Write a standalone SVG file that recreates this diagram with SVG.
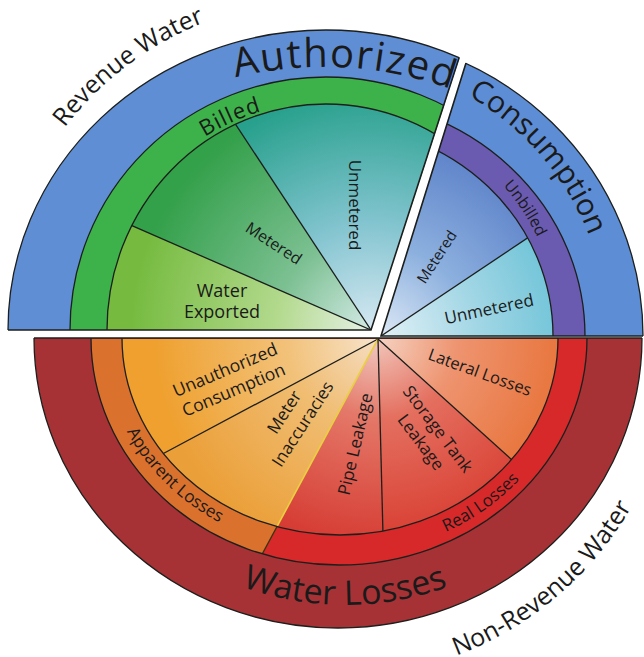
<svg xmlns="http://www.w3.org/2000/svg" width="644" height="657" viewBox="0 0 644 657">
<defs>
<style>
.ln{stroke:#1c1f1c;stroke-width:1.3}
.edge{fill:none;stroke:#1c1f1c;stroke-width:1.6}
.t{font-family:'Open Sans','Noto Sans','DejaVu Sans',sans-serif;fill:#1a1a1a}
</style>
<clipPath id="cTL"><polygon points="371,330 -5,330 -5,-5 480,-5"/></clipPath>
<clipPath id="cTR"><polygon points="381,336 487,-5 650,-5 650,336"/></clipPath>
<clipPath id="cB"><rect x="-5" y="338" width="660" height="330"/></clipPath>
<clipPath id="cTLin"><ellipse cx="326" cy="330" rx="219" ry="226"/></clipPath>
<clipPath id="cTRin"><ellipse cx="332" cy="336" rx="221" ry="211"/></clipPath>
<clipPath id="cBband"><ellipse cx="339" cy="338" rx="248" ry="227"/></clipPath>
<clipPath id="cBin"><ellipse cx="340" cy="338" rx="218" ry="197"/></clipPath>
<radialGradient id="gWE" gradientUnits="userSpaceOnUse" cx="371" cy="330" r="240"><stop offset="0" stop-color="#e6f1e6"/><stop offset="0.4" stop-color="#b2d98c"/><stop offset="1" stop-color="#76bb40"/></radialGradient>
<radialGradient id="gMG" gradientUnits="userSpaceOnUse" cx="371" cy="330" r="240"><stop offset="0" stop-color="#d4eae6"/><stop offset="0.4" stop-color="#7cc092"/><stop offset="1" stop-color="#33a04a"/></radialGradient>
<radialGradient id="gUT" gradientUnits="userSpaceOnUse" cx="371" cy="330" r="240"><stop offset="0" stop-color="#d6e8f2"/><stop offset="0.45" stop-color="#82c4cf"/><stop offset="1" stop-color="#27a08c"/></radialGradient>
<radialGradient id="gMB" gradientUnits="userSpaceOnUse" cx="381" cy="336" r="225"><stop offset="0" stop-color="#dde9f6"/><stop offset="0.4" stop-color="#8cb0de"/><stop offset="1" stop-color="#5277c4"/></radialGradient>
<radialGradient id="gUB" gradientUnits="userSpaceOnUse" cx="381" cy="336" r="225"><stop offset="0" stop-color="#e2f1f6"/><stop offset="0.4" stop-color="#a6d8e6"/><stop offset="1" stop-color="#58bbd2"/></radialGradient>
<radialGradient id="gUC" gradientUnits="userSpaceOnUse" cx="378" cy="339" r="225"><stop offset="0" stop-color="#f7e3cc"/><stop offset="0.4" stop-color="#f2c27a"/><stop offset="1" stop-color="#efa02e"/></radialGradient>
<radialGradient id="gMI" gradientUnits="userSpaceOnUse" cx="378" cy="339" r="225"><stop offset="0" stop-color="#f5ddc2"/><stop offset="0.4" stop-color="#f0bd72"/><stop offset="1" stop-color="#eb9f38"/></radialGradient>
<radialGradient id="gPL" gradientUnits="userSpaceOnUse" cx="378" cy="339" r="225"><stop offset="0" stop-color="#f1cac2"/><stop offset="0.35" stop-color="#e47868"/><stop offset="1" stop-color="#d4342c"/></radialGradient>
<radialGradient id="gST" gradientUnits="userSpaceOnUse" cx="378" cy="339" r="225"><stop offset="0" stop-color="#f1c6ba"/><stop offset="0.35" stop-color="#e47060"/><stop offset="1" stop-color="#d6362a"/></radialGradient>
<radialGradient id="gLL" gradientUnits="userSpaceOnUse" cx="378" cy="339" r="225"><stop offset="0" stop-color="#f5d2c2"/><stop offset="0.35" stop-color="#ee9470"/><stop offset="1" stop-color="#e66a2a"/></radialGradient>
<path id="pRev" d="M-3.5 311.7 A330 330 0 0 1 400.2 7.5"/>
<path id="pAuth" d="M52.8 184.3 A372 372 0 0 1 621.9 216.1"/>
<path id="pCons" d="M279.8 65 A276 276 0 0 1 592.8 426.3"/>
<path id="pBilled" d="M106.6 267.9 A228 228 0 0 1 425.2 124.7"/>
<path id="pUnbilled" d="M357.8 109.5 A228 228 0 0 1 550.6 400.8"/>
<path id="pWL" d="M132.9 517.1 A300 300 0 0 0 557.1 517.1"/>
<path id="pNRW" d="M281.6 672.3 A338 338 0 0 0 676 336.6"/>
<path id="pApp" d="M105.7 305.6 A236 214 0 0 0 344.4 551.9"/>
<path id="pReal" d="M295.2 551.3 A238 217 0 0 0 577 340.3"/>
</defs>
<rect width="644" height="657" fill="#ffffff"/>

<!-- Top-left piece: Authorized consumption / Billed -->
<g id="piece-billed">
<g clip-path="url(#cTL)">
<ellipse id="authorized-ring-left" cx="326" cy="330" rx="318" ry="300" fill="#5f8ed5" class="ln"/>
<ellipse id="billed-ring" cx="326" cy="330" rx="256" ry="253" fill="#3db24b" class="ln"/>
<g clip-path="url(#cTLin)">
<polygon id="billed-water-exported" points="371,330 -300,330 -101,124" fill="url(#gWE)"/>
<polygon id="billed-metered" points="371,330 -101,124 105,-74" fill="url(#gMG)"/>
<polygon id="billed-unmetered" points="371,330 105,-74 503,-78" fill="url(#gUT)"/>
<line class="ln" x1="371" y1="330" x2="-101" y2="124"/>
<line class="ln" x1="371" y1="330" x2="105" y2="-74"/>
</g>
<ellipse cx="326" cy="330" rx="219" ry="226" fill="none" class="ln"/>
</g>
<polyline class="edge" points="8,330 371,330 459,58"/>
</g>

<!-- Top-right piece: Unbilled -->
<g id="piece-unbilled">
<g clip-path="url(#cTR)">
<ellipse id="authorized-ring-right" cx="332" cy="336" rx="311" ry="302" fill="#5d8dd5" class="ln"/>
<ellipse id="unbilled-ring" cx="332" cy="336" rx="253" ry="238" fill="#6a5bb0" class="ln"/>
<g clip-path="url(#cTRin)">
<polygon id="unbilled-metered" points="381,336 507,-72 834,33" fill="url(#gMB)"/>
<polygon id="unbilled-unmetered" points="381,336 834,33 900,336" fill="url(#gUB)"/>
<line class="ln" x1="381" y1="336" x2="834" y2="33"/>
</g>
<ellipse cx="332" cy="336" rx="221" ry="211" fill="none" class="ln"/>
</g>
<polyline class="edge" points="466,63 381,336 643,336"/>
</g>

<!-- Bottom piece: Water losses -->
<g id="piece-losses">
<g clip-path="url(#cB)">
<ellipse id="water-losses-ring" cx="338" cy="338" rx="304" ry="290" fill="#a63236" class="ln"/>
<g clip-path="url(#cBband)">
<polygon id="apparent-losses" points="378,339 -300,339 -300,924 63,924" fill="#da722e"/>
<polygon id="real-losses" points="378,339 63,924 1000,924 1000,339" fill="#d7282a"/>
<line x1="378" y1="339" x2="168" y2="729" stroke="#3a3410" stroke-width="1.3"/>
</g>
<ellipse cx="339" cy="338" rx="248" ry="227" fill="none" class="ln"/>
<g clip-path="url(#cBin)">
<polygon id="unauthorized-consumption" points="378,339 -222,339 -142,616.5" fill="url(#gUC)"/>
<polygon id="meter-inaccuracies" points="378,339 -142,616.5 168,729" fill="url(#gMI)"/>
<polygon id="pipe-leakage" points="378,339 168,729 388,731" fill="url(#gPL)"/>
<polygon id="storage-tank-leakage" points="378,339 388,731 713,641.5" fill="url(#gST)"/>
<polygon id="lateral-losses" points="378,339 713,641.5 978,339" fill="url(#gLL)"/>
<line class="ln" x1="378" y1="339" x2="-142" y2="616.5"/>
<line x1="378" y1="339" x2="168" y2="729" stroke="#e8d040" stroke-width="1.6"/>
<line class="ln" x1="378" y1="339" x2="388" y2="731"/>
<line class="ln" x1="378" y1="339" x2="713" y2="641.5"/>
</g>
<ellipse cx="340" cy="338" rx="218" ry="197" fill="none" class="ln"/>
</g>
<line class="edge" x1="34" y1="338" x2="642" y2="338"/>
</g>

<!-- Labels -->
<g id="labels">
<text class="t" font-size="25"><textPath href="#pRev" startOffset="50%" text-anchor="middle">Revenue Water</textPath></text>
<text class="t" font-size="40" letter-spacing="1.5"><textPath href="#pAuth" startOffset="50%" text-anchor="middle">Authorized</textPath></text>
<text class="t" font-size="30"><textPath href="#pCons" startOffset="50%" text-anchor="middle">Consumption</textPath></text>
<text class="t" font-size="22" letter-spacing="1"><textPath href="#pBilled" startOffset="50%" text-anchor="middle">Billed</textPath></text>
<text class="t" font-size="16"><textPath href="#pUnbilled" startOffset="50%" text-anchor="middle">Unbilled</textPath></text>
<text class="t" font-size="34"><textPath href="#pWL" startOffset="50%" text-anchor="middle">Water Losses</textPath></text>
<text class="t" font-size="25"><textPath href="#pNRW" startOffset="50%" text-anchor="middle">Non-Revenue Water</textPath></text>
<text class="t" font-size="17"><textPath href="#pApp" startOffset="50%" text-anchor="middle">Apparent Losses</textPath></text>
<text class="t" font-size="17"><textPath href="#pReal" startOffset="50%" text-anchor="middle">Real Losses</textPath></text>

<text class="t" font-size="17" text-anchor="middle" transform="translate(355,205) rotate(90)" y="6">Unmetered</text>
<text class="t" font-size="16" text-anchor="middle" transform="translate(274,243) rotate(33)" y="6">Metered</text>
<text class="t" font-size="18" text-anchor="middle" x="222" y="297">Water</text>
<text class="t" font-size="18" text-anchor="middle" x="222" y="318">Exported</text>
<text class="t" font-size="15" text-anchor="middle" transform="translate(437,257) rotate(-57)" y="5">Metered</text>
<text class="t" font-size="17" text-anchor="middle" transform="translate(489,309) rotate(-12)" y="6">Unmetered</text>
<text class="t" font-size="17.5" text-anchor="middle" transform="translate(225,370) rotate(-23)" y="6">Unauthorized</text>
<text class="t" font-size="17.5" text-anchor="middle" transform="translate(233.6,390) rotate(-23)" y="6">Consumption</text>
<text class="t" font-size="17" text-anchor="middle" transform="translate(284,412) rotate(-57)" y="6">Meter</text>
<text class="t" font-size="17" text-anchor="middle" transform="translate(302.5,424) rotate(-57)" y="6">Inaccuracies</text>
<text class="t" font-size="17" text-anchor="middle" transform="translate(355,444) rotate(-77)" y="6">Pipe Leakage</text>
<text class="t" font-size="17" text-anchor="middle" transform="translate(438,429) rotate(53)" y="6">Storage Tank</text>
<text class="t" font-size="17" text-anchor="middle" transform="translate(421,442) rotate(53)" y="6">Leakage</text>
<text class="t" font-size="16.5" text-anchor="middle" transform="translate(480,372) rotate(20)" y="6">Lateral Losses</text>
</g>
</svg>
